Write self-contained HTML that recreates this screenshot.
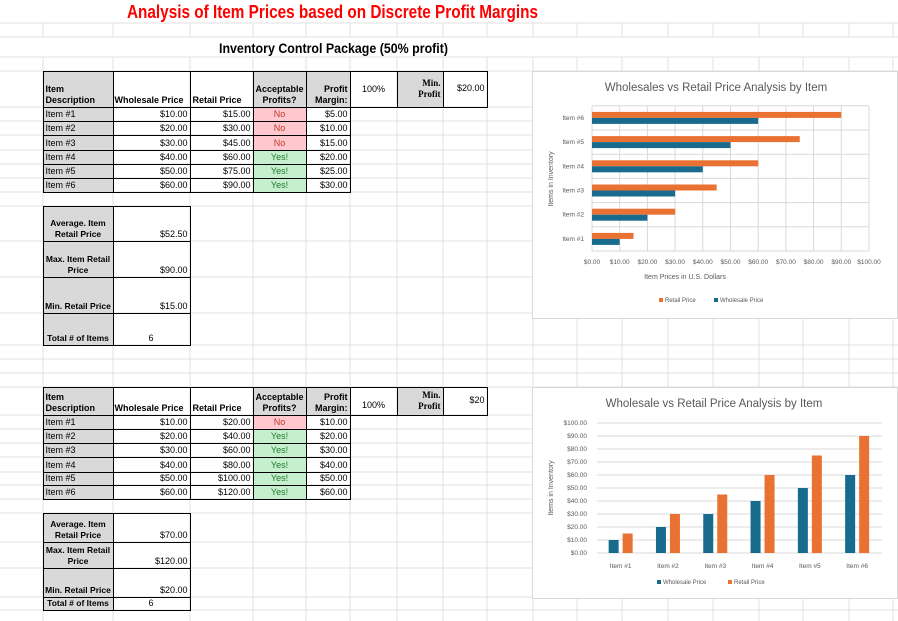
<!DOCTYPE html>
<html><head><meta charset="utf-8">
<style>
html,body{margin:0;padding:0;background:#fff;}
#page{position:relative;width:898px;height:621px;overflow:hidden;font-family:"Liberation Sans",sans-serif;font-size:9px;color:#000;}
.c{position:absolute;box-sizing:border-box;border:1px solid #000;margin:-0.5px 0 0 -0.5px;padding:0 2px 1px 2px;overflow:hidden;white-space:nowrap;line-height:11px;display:flex;align-items:flex-end;}
.g{background:#d9d9d9;}
.no{background:#ffc7ce;color:#c0392b;justify-content:center;}
.yes{background:#c6efce;color:#207a2e;justify-content:center;}
.r{justify-content:flex-end;align-items:flex-end;}
.b{font-weight:bold;}
svg text{font-family:"Liberation Sans",sans-serif;}
</style></head>
<body>
<div id="page">
<svg id="grid" width="898" height="621" style="position:absolute;left:0;top:0"></svg>
<svg width="898" height="70" style="position:absolute;left:0;top:0">
<text x="127" y="18" font-size="18" font-weight="bold" fill="#ff0000" textLength="411" lengthAdjust="spacingAndGlyphs">Analysis of Item Prices based on Discrete Profit Margins</text>
<text x="219" y="53" font-size="13.5" font-weight="bold" fill="#000" textLength="229" lengthAdjust="spacingAndGlyphs">Inventory Control Package (50% profit)</text>
</svg>
<div id="cells"></div>
<svg id="chart1" width="366" height="248" style="position:absolute;left:532px;top:71px;background:#fff;border:1px solid #d9d9d9;box-sizing:border-box"></svg>
<svg id="chart2" width="366" height="212" style="position:absolute;left:532px;top:387px;background:#fff;border:1px solid #d9d9d9;box-sizing:border-box"></svg>
</div>
<script>
// chart data
const categories = ["Item #1","Item #2","Item #3","Item #4","Item #5","Item #6"];
const wholesale1 = [10,20,30,40,50,60];
const retail1 = [15,30,45,60,75,90];
const wholesale2 = [10,20,30,40,50,60];
const retail2 = [15,30,45,60,75,90];
const ticks = [0,10,20,30,40,50,60,70,80,90,100];

const NS="http://www.w3.org/2000/svg";
function sv(parent,tag,attrs,text){const e=document.createElementNS(NS,tag);for(const k in attrs)e.setAttribute(k,attrs[k]);if(text!==undefined)e.textContent=text;parent.appendChild(e);return e;}

// gridlines
const grid=document.getElementById('grid');
const colX=[43,113,190,253,306,350,397,443,487,533,577,622,668,713,759,803,849,893];
const rowY=[23,37,57,71,107,121,135,150,164,178,192,206,241,277,313,345,359,373,387,415,429,443,457,472,485,499,513,542,568,597,610];
rowY.forEach(y=>{const l=sv(grid,'line',{x1:0,x2:898,y1:y,y2:y,stroke:'#e1e1e1','stroke-width':1});

});
colX.forEach(x=>{[[23,37],[57,621]].forEach(([a,b])=>{const l=sv(grid,'line',{x1:x,x2:x,y1:a,y2:b,stroke:'#e1e1e1','stroke-width':1});

});});

// cells
const cellsEl=document.getElementById('cells');
function cell(x1,y1,x2,y2,txt,cls,name){const d=document.createElement('div');d.className='c '+(cls||'');d.style.left=x1+'px';d.style.top=y1+'px';d.style.width=(x2-x1+1)+'px';d.style.height=(y2-y1+1)+'px';d.innerHTML=txt;


cellsEl.appendChild(d);return d;}
function table(top,hb,rows,retail,margins,acc,minp,sum,sumRows){
  cell(43,top,113,hb,'Item<br>Description','g b',"header-item-description");
  cell(113,top,190,hb,'Wholesale Price','b',"header-wholesale").style.padding='0 0 1px 1px';
  cell(190,top,253,hb,'Retail Price','b',"header-retail");
  let h=cell(253,top,306,hb,'Acceptable<br>Profits?','g b',"header-acceptable");h.style.textAlign='center';h.style.justifyContent='center';h.style.padding='0 0 1px 0';
  h=cell(306,top,350,hb,'Profit<br>Margin:','g b r',"header-margin");h.style.textAlign='right';
  h=cell(350,top,397,hb,'100%','',"profit-percent");h.style.justifyContent='center';h.style.alignItems='flex-start';h.style.paddingTop='12px';
  h=cell(397,top,443,hb,'Min.<br>Profit','g b r',"header-min-profit");h.style.textAlign='right';h.style.alignItems='center';h.style.fontFamily='"Liberation Serif",serif';
  h=cell(443,top,487,hb,minp,'',"min-profit-value");h.style.justifyContent='flex-end';h.style.alignItems='center';
  for(let i=0;i<6;i++){const a=rows[i],b=rows[i+1];
    cell(43,a,113,b,'Item #'+(i+1),'g',"item-label");
    cell(113,a,190,b,'$'+(wholesale1[i]).toFixed(2),'r',"wholesale-value");
    cell(190,a,253,b,'$'+retail[i].toFixed(2),'r',"retail-value");
    cell(253,a,306,b,acc[i]?'Yes!':'No',acc[i]?'yes':'no',"acceptable-value");
    cell(306,a,350,b,'$'+margins[i].toFixed(2),'r',"margin-value");}
  const labels=['Average. Item<br>Retail Price','Max. Item Retail<br>Price','Min. Retail Price','Total # of Items'];
  for(let i=0;i<4;i++){const a=sumRows[i],b=sumRows[i+1];
    h=cell(43,a,113,b,labels[i],'g b',"summary-label");h.style.justifyContent='center';h.style.textAlign='center';h.style.fontSize='8.5px';h.style.padding='0 0 1px 0';
    h=cell(113,a,190,b,sum[i],'r',"summary-value");if(i==3){h.style.justifyContent='flex-start';h.style.paddingLeft='35px';}}
}
table(71,107,[107,121,135,150,164,178,192],[15,30,45,60,75,90],[5,10,15,20,25,30],[0,0,0,1,1,1],'$20.00',['$52.50','$90.00','$15.00','6'],[206,241,277,313,345]);
table(387,415,[415,429,443,457,472,485,499],[20,40,60,80,100,120],[10,20,30,40,50,60],[0,1,1,1,1,1],'$20',['$70.00','$120.00','$20.00','6'],[513,542,568,597,610]);

// Chart 1 (horizontal bars)
const c1=document.getElementById('chart1');
const ORANGE='#e97132',BLUE='#196b8e',GRAY='#595959';
const x1=v=>59+v/100*277, band1=24.2, y1c=i=>179-(i+0.5)*band1;
sv(c1,'text',{x:183,y:19,'font-size':11.5,fill:GRAY,'text-anchor':'middle'},'Wholesales vs Retail Price Analysis by Item');
ticks.forEach(t=>{const l=sv(c1,'line',{x1:x1(t),x2:x1(t),y1:34,y2:179,stroke:'#d9d9d9'});


const tx=sv(c1,'text',{x:x1(t),y:192,'font-size':6.5,fill:GRAY,'text-anchor':'middle'},'$'+t.toFixed(2));

});
for(let i=0;i<=6;i++){sv(c1,'line',{x1:59,x2:336,y1:179-i*band1,y2:179-i*band1,stroke:'#d9d9d9'});}
categories.forEach((c,i)=>{const cy=y1c(i);
const t=sv(c1,'text',{x:51,y:cy+2,'font-size':6.5,fill:GRAY,'text-anchor':'end'},c);


const r=sv(c1,'rect',{x:x1(0),y:cy-6,width:x1(retail1[i])-x1(0),height:6,fill:ORANGE});


const w=sv(c1,'rect',{x:x1(0),y:cy,width:x1(wholesale1[i])-x1(0),height:6,fill:BLUE});

});
sv(c1,'text',{x:152,y:207,'font-size':7,fill:GRAY,'text-anchor':'middle'},'Item Prices in U.S. Dollars');
sv(c1,'text',{x:0,y:0,'font-size':7,fill:GRAY,'text-anchor':'middle',transform:'translate(20,107) rotate(-90)'},'Items in Inventory');
sv(c1,'rect',{x:126,y:226,width:4,height:4,fill:ORANGE});
sv(c1,'text',{x:132,y:230,'font-size':6,fill:GRAY},'Retail Price');
sv(c1,'rect',{x:181,y:226,width:4,height:4,fill:BLUE});
sv(c1,'text',{x:187,y:230,'font-size':6,fill:GRAY},'Wholesale Price');

// Chart 2 (columns)
const c2=document.getElementById('chart2');
const y2=v=>165-v/100*130, band2=47.3, x2c=i=>64+i*band2+band2/2;
sv(c2,'text',{x:181,y:19,'font-size':11.5,fill:GRAY,'text-anchor':'middle'},'Wholesale vs Retail Price Analysis by Item');
ticks.forEach(t=>{const l=sv(c2,'line',{x1:64,x2:349,y1:y2(t),y2:y2(t),stroke:'#d9d9d9'});


const tx=sv(c2,'text',{x:54,y:y2(t)+2,'font-size':6.5,fill:GRAY,'text-anchor':'end'},'$'+t.toFixed(2));

});
categories.forEach((c,i)=>{const cx=x2c(i);
const t=sv(c2,'text',{x:cx,y:180,'font-size':6.5,fill:GRAY,'text-anchor':'middle'},c);


const w=sv(c2,'rect',{x:cx-12,y:y2(wholesale2[i]),width:10,height:y2(0)-y2(wholesale2[i]),fill:BLUE});


const r=sv(c2,'rect',{x:cx+2,y:y2(retail2[i]),width:10,height:y2(0)-y2(retail2[i]),fill:ORANGE});

});
sv(c2,'text',{x:0,y:0,'font-size':7,fill:GRAY,'text-anchor':'middle',transform:'translate(20,100) rotate(-90)'},'Items in Inventory');
sv(c2,'rect',{x:124,y:192,width:4,height:4,fill:BLUE});
sv(c2,'text',{x:130,y:196,'font-size':6,fill:GRAY},'Wholesale Price');
sv(c2,'rect',{x:195,y:192,width:4,height:4,fill:ORANGE});
sv(c2,'text',{x:201,y:196,'font-size':6,fill:GRAY},'Retail Price');
</script>
</body></html>
